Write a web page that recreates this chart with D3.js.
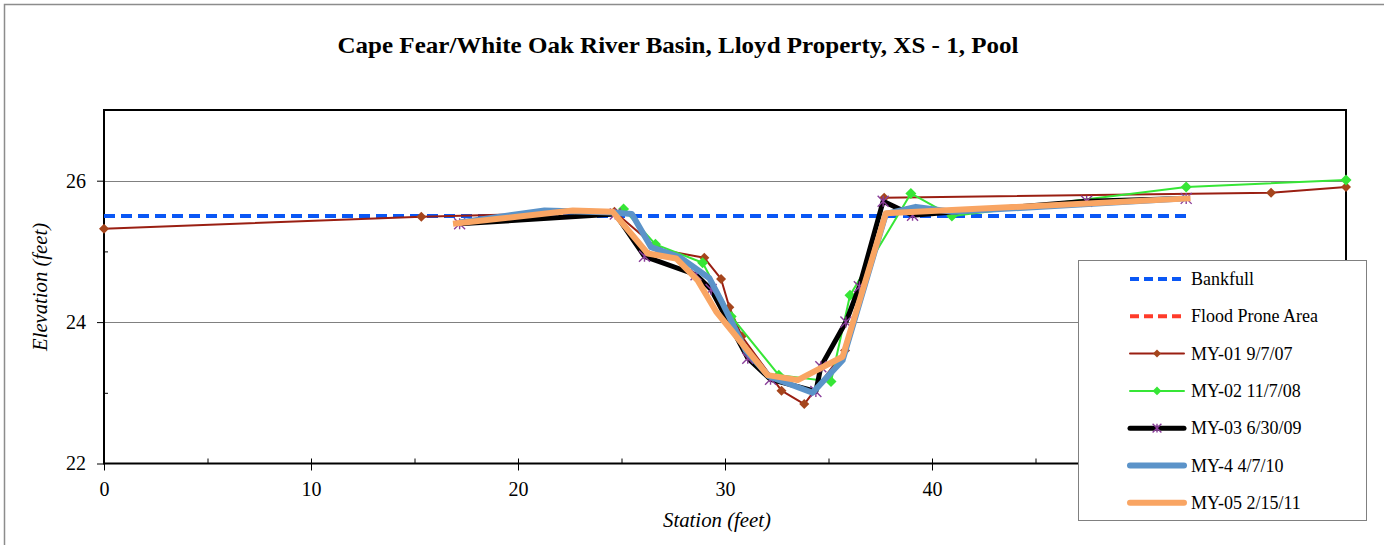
<!DOCTYPE html>
<html>
<head>
<meta charset="utf-8">
<script src="https://cdn.jsdelivr.net/npm/d3@7/dist/d3.min.js"></script>
<style>
  html, body { margin: 0; padding: 0; background: #fff; }
  svg { display: block; }
</style>
</head>
<body>
<svg id="chart" width="1384" height="545"></svg>
<script>
// Cross-section survey, XS-1 (pool), station vs. elevation in feet
const chartTitle = "Cape Fear/White Oak River Basin, Lloyd Property, XS - 1, Pool";
const xTitle = "Station (feet)";
const yTitle = "Elevation (feet)";
const xTicks = [0, 10, 20, 30, 40, 50, 60];
const xMinorTicks = [5, 15, 25, 35, 45, 55];
const yTicks = [22, 24, 26];
const yMinorTicks = [23, 25];
const gridLines = [24, 26];

// Bankfull elevation line
const bankfull = [[0, 25.5], [52.38, 25.5]];
// Flood prone area line (above the plotted elevation range)
const floodProne = [];

const my01 = [[0, 25.32], [15.33, 25.49], [24.66, 25.56], [26.78, 25.03], [29.0, 24.91],
  [29.81, 24.61], [30.21, 24.21], [30.81, 23.80], [32.73, 23.03], [33.83, 22.84],
  [35.8, 23.6], [37.69, 25.76], [56.38, 25.83], [60, 25.91]];
const my02 = [[25.1, 25.6], [26.64, 25.10], [28.92, 24.84], [30.3, 24.08], [32.6, 23.25],
  [35.12, 23.16], [36.04, 24.38], [38.98, 25.82], [40.96, 25.5], [52.28, 25.91], [60, 26.01]];
const my03 = [[17.18, 25.39], [24.7, 25.53], [26.11, 24.93], [28.6, 24.67], [29.33, 24.46],
  [31.1, 23.49], [32.2, 23.19], [34.39, 23.02], [34.63, 23.37], [35.84, 24.0], [36.49, 24.5],
  [37.64, 25.71], [39.06, 25.51], [47.47, 25.71], [52.28, 25.75]];
const my04 = [[17.18, 25.41], [21.28, 25.58], [24.6, 25.55], [25.5, 25.53], [26.43, 25.06],
  [27.8, 24.92], [29.25, 24.62], [29.89, 24.26], [31.0, 23.6], [32.14, 23.23], [34.23, 23.0],
  [35.68, 23.46], [37.77, 25.53], [39.22, 25.63], [40.97, 25.56], [52.28, 25.75]];
const my05 = [[16.86, 25.39], [22.65, 25.58], [24.58, 25.56], [26.27, 24.97], [27.64, 24.9],
  [28.68, 24.59], [29.57, 24.15], [32.06, 23.25], [33.51, 23.18], [35.68, 23.51],
  [37.77, 25.54], [52.49, 25.75]];

const series = [
  { name: "Bankfull", data: bankfull, color: "#0a57f5", width: 4, dash: "11,6", marker: null },
  { name: "Flood Prone Area", data: floodProne, color: "#ff3b2a", width: 4, dash: "11,6", marker: null },
  { name: "MY-01 9/7/07", data: my01, color: "#9a1f12", width: 2, dash: null, marker: "diamond", markerColor: "#a5451c", markerSize: 10 },
  { name: "MY-02 11/7/08", data: my02, color: "#36e636", width: 2, dash: null, marker: "diamond", markerColor: "#36e636", markerSize: 11 },
  { name: "MY-03 6/30/09", data: my03, color: "#000000", width: 5, dash: null, marker: "asterisk", markerColor: "#8a3e9a", markerSize: 11 },
  { name: "MY-4 4/7/10", data: my04, color: "#5b93c9", width: 6, dash: null, marker: null },
  { name: "MY-05 2/15/11", data: my05, color: "#f9a563", width: 6, dash: null, marker: null }
];

const svg = d3.select("#chart");
const serif = "'Liberation Serif', 'Times New Roman', serif";

// outer chart frame
svg.append("rect").attr("x", 4.5).attr("y", 4.5).attr("width", 1420).attr("height", 600)
  .attr("fill", "#fff").attr("stroke", "#8c8c8c").attr("stroke-width", 1.5);

const plot = { left: 104, right: 1346, top: 110, bottom: 463.5 };
const x = d3.scaleLinear().domain([0, 60]).range([plot.left, plot.right]);
const y = d3.scaleLinear().domain([22, 27]).range([plot.bottom, plot.top]);

svg.append("text").attr("x", 678).attr("y", 53).attr("text-anchor", "middle")
  .attr("font-family", serif).attr("font-weight", "bold").attr("font-size", 23)
  .attr("textLength", 681).attr("lengthAdjust", "spacingAndGlyphs")
  .text(chartTitle);

// horizontal gridlines
svg.append("g").selectAll("line").data(gridLines).join("line")
  .attr("x1", plot.left).attr("x2", plot.right)
  .attr("y1", d => Math.round(y(d)) + 0.5).attr("y2", d => Math.round(y(d)) + 0.5)
  .attr("stroke", "#808080").attr("stroke-width", 1);

// axes
const yAxis = svg.append("g").attr("transform", `translate(${plot.left},0)`)
  .call(d3.axisLeft(y).tickValues(yTicks).tickSize(7).tickPadding(11).tickFormat(d3.format("d")));
const yMinor = svg.append("g").attr("transform", `translate(${plot.left},0)`)
  .call(d3.axisRight(y).tickValues(yMinorTicks).tickSize(4).tickFormat(""));
const xAxis = svg.append("g").attr("transform", `translate(0,${plot.bottom})`)
  .call(d3.axisBottom(x).tickValues(xTicks).tickSize(7).tickPadding(11).tickFormat(d3.format("d")));
const xMajorInner = svg.append("g").attr("transform", `translate(0,${plot.bottom})`)
  .call(d3.axisTop(x).tickValues(xTicks).tickSize(5).tickFormat(""));
const xMinor = svg.append("g").attr("transform", `translate(0,${plot.bottom})`)
  .call(d3.axisTop(x).tickValues(xMinorTicks).tickSize(5).tickFormat(""));

[yAxis, yMinor, xAxis, xMajorInner, xMinor].forEach(g => {
  g.attr("font-family", serif).attr("font-size", 20);
  g.select(".domain").remove();
  g.selectAll("line").attr("stroke", "#000").attr("stroke-width", 1);
  g.selectAll("text").attr("font-family", serif).attr("font-size", 20).attr("fill", "#000");
});

// plot frame
svg.append("rect").attr("x", plot.left).attr("y", plot.top)
  .attr("width", plot.right - plot.left).attr("height", plot.bottom - plot.top)
  .attr("fill", "none").attr("stroke", "#000").attr("stroke-width", 2);

// axis titles
svg.append("text").attr("x", 717).attr("y", 527).attr("text-anchor", "middle")
  .attr("font-family", serif).attr("font-style", "italic").attr("font-size", 20)
  .attr("textLength", 108).attr("lengthAdjust", "spacingAndGlyphs").text(xTitle);
svg.append("text").attr("transform", "translate(47,287) rotate(-90)").attr("text-anchor", "middle")
  .attr("font-family", serif).attr("font-style", "italic").attr("font-size", 20)
  .attr("textLength", 128).attr("lengthAdjust", "spacingAndGlyphs").text(yTitle);

function drawMarker(g, type, cx, cy, size, color) {
  const r = size / 2;
  if (type === "diamond") {
    g.append("path")
      .attr("d", `M${cx},${cy - r}L${cx + r},${cy}L${cx},${cy + r}L${cx - r},${cy}Z`)
      .attr("fill", color);
  } else if (type === "asterisk") {
    const p = `M${cx - r},${cy - r}L${cx + r},${cy + r}M${cx - r},${cy + r}L${cx + r},${cy - r}M${cx},${cy - r}L${cx},${cy + r}`;
    g.append("path").attr("d", p).attr("stroke", color).attr("stroke-width", 1.4).attr("fill", "none");
  }
}

const line = d3.line().x(d => x(d[0])).y(d => y(d[1]));
const dataLayer = svg.append("g");
series.forEach(s => {
  if (!s.data.length) return;
  const g = dataLayer.append("g");
  g.append("path").attr("d", line(s.data)).attr("fill", "none")
    .attr("stroke", s.color).attr("stroke-width", s.width)
    .attr("stroke-dasharray", s.dash).attr("stroke-linejoin", "round");
  if (s.marker) s.data.forEach(d => drawMarker(g, s.marker, x(d[0]), y(d[1]), s.markerSize, s.markerColor));
});

// legend
const legend = svg.append("g");
legend.append("rect").attr("x", 1078.5).attr("y", 260.5).attr("width", 288).attr("height", 260)
  .attr("fill", "#fff").attr("stroke", "#808080").attr("stroke-width", 1);
series.forEach((s, i) => {
  const ly = 279 + i * 37.3;
  const g = legend.append("g");
  g.append("line").attr("x1", 1130).attr("x2", 1184).attr("y1", ly).attr("y2", ly)
    .attr("stroke", s.color).attr("stroke-width", s.width)
    .attr("stroke-dasharray", s.dash ? "9,5" : null)
    .attr("stroke-linecap", s.dash ? "butt" : "round");
  if (s.marker) drawMarker(g, s.marker, 1157, ly, s.markerSize * 0.8, s.markerColor);
  g.append("text").attr("x", 1191).attr("y", ly + 6).attr("font-family", serif)
    .attr("font-size", 18).text(s.name);
});
</script>
</body>
</html>
